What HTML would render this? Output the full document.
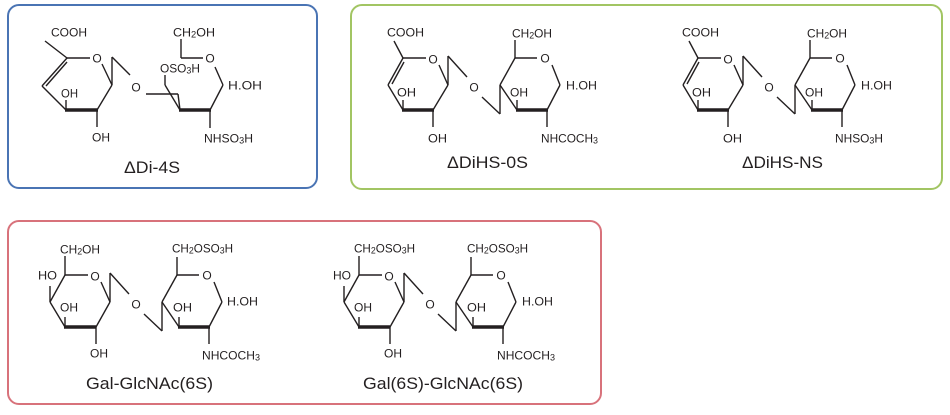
<!DOCTYPE html>
<html><head><meta charset="utf-8"><style>
html,body{margin:0;padding:0;background:#fff;}
svg{display:block}
text{font-family:"Liberation Sans",Arial,sans-serif;fill:#231f20;}
.s{font-size:12px}
.n{font-size:17px}
line{stroke:#231f20;stroke-width:1.4;fill:none;}
.t{stroke-width:3.6}
</style></head><body>
<svg width="950" height="415" viewBox="0 0 950 415" xmlns="http://www.w3.org/2000/svg">
<rect x="8" y="5" width="309" height="183" rx="11" fill="none" stroke="#4a74b4" stroke-width="2"/>
<rect x="351" y="5" width="591" height="184" rx="11" fill="none" stroke="#a2c563" stroke-width="2"/>
<rect x="8" y="221" width="593" height="183" rx="11" fill="none" stroke="#d8727b" stroke-width="2"/>

<!-- ΔDi-4S -->
<g>
<line x1="45" y1="41" x2="67" y2="58"/>
<line x1="67" y1="58" x2="90" y2="58"/>
<line x1="42" y1="86" x2="67" y2="58"/>
<line x1="46" y1="86" x2="67" y2="62"/>
<line x1="42" y1="86" x2="66" y2="110"/>
<line class="t" x1="65" y1="110" x2="98" y2="110"/>
<line x1="66" y1="110" x2="66" y2="100"/>
<line x1="97" y1="110" x2="112" y2="85"/>
<line x1="102" y1="64" x2="112" y2="85"/>
<line x1="112" y1="85" x2="112" y2="57"/>
<line x1="112" y1="57" x2="130" y2="75"/>
<line x1="97" y1="110" x2="97" y2="127"/>
<line x1="146" y1="94" x2="178" y2="94"/>
<line x1="178" y1="94" x2="180" y2="110"/>
<line x1="165" y1="85" x2="180" y2="110"/>
<line x1="165" y1="85" x2="165" y2="75"/>
<line class="t" x1="179" y1="110" x2="211" y2="110"/>
<line x1="210" y1="110" x2="210" y2="128"/>
<line x1="210" y1="110" x2="223" y2="85"/>
<line x1="215" y1="67" x2="223" y2="85"/>
<line x1="181" y1="58" x2="203" y2="58"/>
<line x1="181" y1="58" x2="181" y2="39"/>
<text class="s" x="51" y="36.5" textLength="36" lengthAdjust="spacingAndGlyphs">COOH</text>
<text class="s" x="97" y="62.5" text-anchor="middle">O</text>
<text class="s" x="61" y="97.5" textLength="17" lengthAdjust="spacingAndGlyphs">OH</text>
<text class="s" x="92" y="141.5" textLength="18" lengthAdjust="spacingAndGlyphs">OH</text>
<text class="s" x="136" y="91.5" text-anchor="middle">O</text>
<text class="s" x="160" y="72.5" textLength="40" lengthAdjust="spacingAndGlyphs">OSO<tspan font-size="9" dy="1">3</tspan><tspan dy="-1">H</tspan></text>
<text class="s" x="173" y="36.5" textLength="42" lengthAdjust="spacingAndGlyphs">CH<tspan font-size="9" dy="1">2</tspan><tspan dy="-1">OH</tspan></text>
<text class="s" x="210" y="62.5" text-anchor="middle">O</text>
<text class="s" x="228" y="89.5" textLength="34" lengthAdjust="spacingAndGlyphs">H.OH</text>
<text class="s" x="204" y="142.5" textLength="49" lengthAdjust="spacingAndGlyphs">NHSO<tspan font-size="9" dy="1">3</tspan><tspan dy="-1">H</tspan></text>
<text class="n" x="124" y="173" textLength="56" lengthAdjust="spacingAndGlyphs">ΔDi-4S</text>
</g>

<!-- ΔDiHS-0S -->
<g>
<line x1="388" y1="85" x2="403" y2="110"/>
<line class="t" x1="402" y1="110" x2="434" y2="110"/>
<line x1="403" y1="110" x2="403" y2="100"/>
<line x1="433" y1="110" x2="433" y2="127"/>
<line x1="433" y1="110" x2="448" y2="85"/>
<line x1="439" y1="65" x2="448" y2="85"/>
<line x1="448" y1="85" x2="448" y2="56"/>
<line x1="448" y1="56" x2="467" y2="77"/>
<line x1="403" y1="58" x2="426" y2="58"/>
<line x1="482" y1="97" x2="500" y2="114"/>
<line x1="500" y1="114" x2="500" y2="85"/>
<line x1="500" y1="85" x2="515" y2="58"/>
<line x1="500" y1="85" x2="517" y2="110"/>
<line x1="517" y1="110" x2="517" y2="100"/>
<line class="t" x1="516" y1="110" x2="548" y2="110"/>
<line x1="547" y1="110" x2="547" y2="127"/>
<line x1="547" y1="110" x2="560" y2="85"/>
<line x1="552" y1="65" x2="560" y2="85"/>
<line x1="515" y1="58" x2="537" y2="58"/>
<line x1="515" y1="58" x2="515" y2="40"/>
<line x1="394" y1="41" x2="403" y2="58"/>
<line x1="388" y1="85" x2="403" y2="58"/>
<line x1="392" y1="84" x2="404" y2="62"/>
<text class="s" x="433" y="63.5" text-anchor="middle">O</text>
<text class="s" x="474" y="91.5" text-anchor="middle">O</text>
<text class="s" x="545" y="62.5" text-anchor="middle">O</text>
<text class="s" x="387" y="36.5" textLength="37" lengthAdjust="spacingAndGlyphs">COOH</text>
<text class="s" x="397" y="96.5" textLength="19" lengthAdjust="spacingAndGlyphs">OH</text>
<text class="s" x="428" y="142.5" textLength="19" lengthAdjust="spacingAndGlyphs">OH</text>
<text class="s" x="512" y="37.5" textLength="40" lengthAdjust="spacingAndGlyphs">CH<tspan font-size="9" dy="1">2</tspan><tspan dy="-1">OH</tspan></text>
<text class="s" x="566" y="89.5" textLength="31" lengthAdjust="spacingAndGlyphs">H.OH</text>
<text class="s" x="510" y="96.5" textLength="18" lengthAdjust="spacingAndGlyphs">OH</text>
<text class="s" x="541" y="142.5" textLength="57" lengthAdjust="spacingAndGlyphs">NHCOCH<tspan font-size="9" dy="1">3</tspan></text>
<text class="n" x="447" y="168" textLength="81" lengthAdjust="spacingAndGlyphs">ΔDiHS-0S</text>
</g>

<!-- ΔDiHS-NS -->
<g transform="translate(295,0)">
<line x1="388" y1="85" x2="403" y2="110"/>
<line class="t" x1="402" y1="110" x2="434" y2="110"/>
<line x1="403" y1="110" x2="403" y2="100"/>
<line x1="433" y1="110" x2="433" y2="127"/>
<line x1="433" y1="110" x2="448" y2="85"/>
<line x1="439" y1="65" x2="448" y2="85"/>
<line x1="448" y1="85" x2="448" y2="56"/>
<line x1="448" y1="56" x2="467" y2="77"/>
<line x1="403" y1="58" x2="426" y2="58"/>
<line x1="482" y1="97" x2="500" y2="114"/>
<line x1="500" y1="114" x2="500" y2="85"/>
<line x1="500" y1="85" x2="515" y2="58"/>
<line x1="500" y1="85" x2="517" y2="110"/>
<line x1="517" y1="110" x2="517" y2="100"/>
<line class="t" x1="516" y1="110" x2="548" y2="110"/>
<line x1="547" y1="110" x2="547" y2="127"/>
<line x1="547" y1="110" x2="560" y2="85"/>
<line x1="552" y1="65" x2="560" y2="85"/>
<line x1="515" y1="58" x2="537" y2="58"/>
<line x1="515" y1="58" x2="515" y2="40"/>
<line x1="394" y1="41" x2="403" y2="58"/>
<line x1="388" y1="85" x2="403" y2="58"/>
<line x1="392" y1="84" x2="404" y2="62"/>
<text class="s" x="433" y="63.5" text-anchor="middle">O</text>
<text class="s" x="474" y="91.5" text-anchor="middle">O</text>
<text class="s" x="545" y="62.5" text-anchor="middle">O</text>
<text class="s" x="387" y="36.5" textLength="37" lengthAdjust="spacingAndGlyphs">COOH</text>
<text class="s" x="397" y="96.5" textLength="19" lengthAdjust="spacingAndGlyphs">OH</text>
<text class="s" x="428" y="142.5" textLength="19" lengthAdjust="spacingAndGlyphs">OH</text>
<text class="s" x="512" y="37.5" textLength="40" lengthAdjust="spacingAndGlyphs">CH<tspan font-size="9" dy="1">2</tspan><tspan dy="-1">OH</tspan></text>
<text class="s" x="566" y="89.5" textLength="31" lengthAdjust="spacingAndGlyphs">H.OH</text>
<text class="s" x="510" y="96.5" textLength="18" lengthAdjust="spacingAndGlyphs">OH</text>
<text class="s" x="540" y="142.5" textLength="48" lengthAdjust="spacingAndGlyphs">NHSO<tspan font-size="9" dy="1">3</tspan><tspan dy="-1">H</tspan></text>
<text class="n" x="447" y="168" textLength="81" lengthAdjust="spacingAndGlyphs">ΔDiHS-NS</text>
</g>

<!-- Gal-GlcNAc(6S) -->
<g transform="translate(-338,217)">
<line x1="388" y1="85" x2="403" y2="110"/>
<line class="t" x1="402" y1="110" x2="434" y2="110"/>
<line x1="403" y1="110" x2="403" y2="100"/>
<line x1="434" y1="110" x2="434" y2="127"/>
<line x1="434" y1="110" x2="448" y2="85"/>
<line x1="439" y1="65" x2="448" y2="85"/>
<line x1="448" y1="85" x2="448" y2="56"/>
<line x1="448" y1="56" x2="467" y2="77"/>
<line x1="403" y1="58" x2="426" y2="58"/>
<line x1="482" y1="97" x2="500" y2="114"/>
<line x1="500" y1="114" x2="500" y2="85"/>
<line x1="500" y1="85" x2="515" y2="58"/>
<line x1="500" y1="85" x2="517" y2="110"/>
<line x1="517" y1="110" x2="517" y2="100"/>
<line class="t" x1="516" y1="110" x2="548" y2="110"/>
<line x1="547" y1="110" x2="547" y2="127"/>
<line x1="547" y1="110" x2="560" y2="85"/>
<line x1="552" y1="65" x2="560" y2="85"/>
<line x1="515" y1="58" x2="537" y2="58"/>
<line x1="515" y1="58" x2="515" y2="40"/>
<line x1="388" y1="85" x2="403" y2="58"/>
<line x1="388" y1="85" x2="388" y2="69"/>
<line x1="403" y1="58" x2="403" y2="39"/>
<text class="s" x="433" y="63.5" text-anchor="middle">O</text>
<text class="s" x="474" y="91.5" text-anchor="middle">O</text>
<text class="s" x="545" y="62.5" text-anchor="middle">O</text>
</g>
<text class="s" x="60" y="253.5" textLength="40" lengthAdjust="spacingAndGlyphs">CH<tspan font-size="9" dy="1">2</tspan><tspan dy="-1">OH</tspan></text>
<text class="s" x="38" y="279.5" textLength="19" lengthAdjust="spacingAndGlyphs">HO</text>
<text class="s" x="60" y="311.5" textLength="18" lengthAdjust="spacingAndGlyphs">OH</text>
<text class="s" x="90" y="357.5" textLength="18" lengthAdjust="spacingAndGlyphs">OH</text>
<text class="s" x="172" y="252.5" textLength="61" lengthAdjust="spacingAndGlyphs">CH<tspan font-size="9" dy="1">2</tspan><tspan dy="-1">OSO</tspan><tspan font-size="9" dy="1">3</tspan><tspan dy="-1">H</tspan></text>
<text class="s" x="173" y="311.5" textLength="19" lengthAdjust="spacingAndGlyphs">OH</text>
<text class="s" x="227" y="305.5" textLength="31" lengthAdjust="spacingAndGlyphs">H.OH</text>
<text class="s" x="202" y="359.5" textLength="58" lengthAdjust="spacingAndGlyphs">NHCOCH<tspan font-size="9" dy="1">3</tspan></text>
<text class="n" x="86" y="389" textLength="127" lengthAdjust="spacingAndGlyphs">Gal-GlcNAc(6S)</text>

<!-- Gal(6S)-GlcNAc(6S) -->
<g transform="translate(-44,217)">
<line x1="388" y1="85" x2="403" y2="110"/>
<line class="t" x1="402" y1="110" x2="434" y2="110"/>
<line x1="403" y1="110" x2="403" y2="100"/>
<line x1="434" y1="110" x2="434" y2="127"/>
<line x1="434" y1="110" x2="448" y2="85"/>
<line x1="439" y1="65" x2="448" y2="85"/>
<line x1="448" y1="85" x2="448" y2="56"/>
<line x1="448" y1="56" x2="467" y2="77"/>
<line x1="403" y1="58" x2="426" y2="58"/>
<line x1="482" y1="97" x2="500" y2="114"/>
<line x1="500" y1="114" x2="500" y2="85"/>
<line x1="500" y1="85" x2="515" y2="58"/>
<line x1="500" y1="85" x2="517" y2="110"/>
<line x1="517" y1="110" x2="517" y2="100"/>
<line class="t" x1="516" y1="110" x2="548" y2="110"/>
<line x1="547" y1="110" x2="547" y2="127"/>
<line x1="547" y1="110" x2="560" y2="85"/>
<line x1="552" y1="65" x2="560" y2="85"/>
<line x1="515" y1="58" x2="537" y2="58"/>
<line x1="515" y1="58" x2="515" y2="40"/>
<line x1="388" y1="85" x2="403" y2="58"/>
<line x1="388" y1="85" x2="388" y2="69"/>
<line x1="403" y1="58" x2="403" y2="39"/>
<text class="s" x="433" y="63.5" text-anchor="middle">O</text>
<text class="s" x="474" y="91.5" text-anchor="middle">O</text>
<text class="s" x="545" y="62.5" text-anchor="middle">O</text>
</g>
<text class="s" x="354" y="252.5" textLength="61" lengthAdjust="spacingAndGlyphs">CH<tspan font-size="9" dy="1">2</tspan><tspan dy="-1">OSO</tspan><tspan font-size="9" dy="1">3</tspan><tspan dy="-1">H</tspan></text>
<text class="s" x="333" y="279.5" textLength="18" lengthAdjust="spacingAndGlyphs">HO</text>
<text class="s" x="354" y="311.5" textLength="18" lengthAdjust="spacingAndGlyphs">OH</text>
<text class="s" x="384" y="357.5" textLength="18" lengthAdjust="spacingAndGlyphs">OH</text>
<text class="s" x="467" y="252.5" textLength="61" lengthAdjust="spacingAndGlyphs">CH<tspan font-size="9" dy="1">2</tspan><tspan dy="-1">OSO</tspan><tspan font-size="9" dy="1">3</tspan><tspan dy="-1">H</tspan></text>
<text class="s" x="467" y="311.5" textLength="19" lengthAdjust="spacingAndGlyphs">OH</text>
<text class="s" x="522" y="305.5" textLength="31" lengthAdjust="spacingAndGlyphs">H.OH</text>
<text class="s" x="497" y="359.5" textLength="58" lengthAdjust="spacingAndGlyphs">NHCOCH<tspan font-size="9" dy="1">3</tspan></text>
<text class="n" x="363" y="389" textLength="160" lengthAdjust="spacingAndGlyphs">Gal(6S)-GlcNAc(6S)</text>
</svg>
</body></html>
